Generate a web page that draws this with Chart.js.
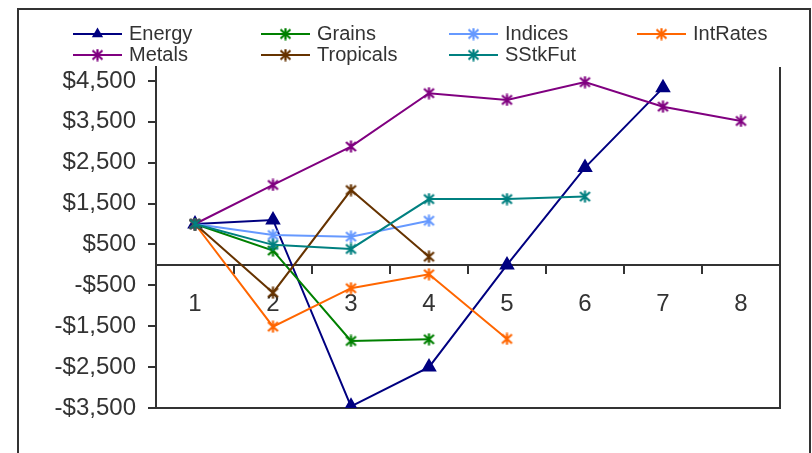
<!DOCTYPE html>
<html lang="en">
<head>
  <meta charset="UTF-8" />
  <title>Sector P&amp;L</title>
  <script src="https://cdn.jsdelivr.net/npm/chart.js"></script>
  <style>
    html, body {
      margin: 0;
      padding: 0;
      background: #fff;
    }
    #wrap {
      width: 812px;
      height: 453px;
    }
  </style>
</head>
<body>
  <div id="wrap"><canvas id="chart" width="812" height="453"></canvas></div>

  <script>
    // data
    const periods = ['1', '2', '3', '4', '5', '6', '7', '8'];
    const yTicks = [-3500, -2500, -1500, -500, 500, 1500, 2500, 3500, 4500];

    const energy    = [1000, 1100, -3460, -2500, 0, 2380, 4330];
    const grains    = [1000, 350, -1860, -1820];
    const indices   = [1000, 730, 690, 1080];
    const intRates  = [1000, -1510, -570, -230, -1810];
    const metals    = [1000, 1955, 2895, 4200, 4035, 4470, 3870, 3520];
    const tropicals = [1000, -680, 1830, 200];
    const sStkFut   = [1000, 490, 390, 1610, 1610, 1670];

    const FONT = '"Liberation Sans", Arial, sans-serif';
    const INK = '#333';

    // excel style asterisk marker
    function asterisk(color) {
      const c = document.createElement('canvas');
      c.width = 13; c.height = 13;
      const g = c.getContext('2d');
      g.strokeStyle = color;
      g.lineWidth = 2.2;
      g.beginPath();
      g.moveTo(6.5, 0.5); g.lineTo(6.5, 12.5);
      g.moveTo(1.5, 2); g.lineTo(11.5, 11);
      g.moveTo(11.5, 2); g.lineTo(1.5, 11);
      g.stroke();
      return c;
    }

    function serie(label, data, color, marker, order) {
      return {
        label, data,
        borderColor: color,
        backgroundColor: color,
        borderWidth: 2,
        tension: 0,
        fill: false,
        pointStyle: marker === 'triangle' ? 'triangle' : asterisk(color),
        pointRadius: 7,
        pointHoverRadius: 7,
        order
      };
    }

    const datasets = [
      serie('Energy', energy, '#000080', 'triangle', 7),
      serie('Grains', grains, '#008000', 'star', 6),
      serie('Indices', indices, '#6699FF', 'star', 5),
      serie('IntRates', intRates, '#FF6600', 'star', 4),
      serie('Metals', metals, '#800080', 'star', 3),
      serie('Tropicals', tropicals, '#663300', 'star', 2),
      serie('SStkFut', sStkFut, '#008080', 'star', 1)
    ];

    // outer frame + right/bottom border of plot area
    const frame = {
      id: 'frame',
      beforeDatasetsDraw(chart) {
        const { ctx, chartArea: a } = chart;
        ctx.save();
        ctx.strokeStyle = INK;
        ctx.lineWidth = 2;
        ctx.strokeRect(18, 9, 792, 470);
        ctx.beginPath();
        ctx.moveTo(a.right, a.top);
        ctx.lineTo(a.right, a.bottom);
        ctx.lineTo(a.left, a.bottom);
        ctx.stroke();
        ctx.restore();
      }
    };

    // 4 column legend like the excel one
    const gridLegend = {
      id: 'gridLegend',
      afterDraw(chart) {
        const ctx = chart.ctx;
        ctx.save();
        chart.data.datasets.forEach((ds, i) => {
          const x0 = 73 + (i % 4) * 188;
          const y = 34 + Math.floor(i / 4) * 21;
          ctx.strokeStyle = ds.borderColor;
          ctx.lineWidth = 2;
          ctx.beginPath();
          ctx.moveTo(x0, y);
          ctx.lineTo(x0 + 49, y);
          ctx.stroke();
          const mx = x0 + 24.5;
          if (ds.pointStyle === 'triangle') {
            const r = 6.5;
            ctx.fillStyle = ds.borderColor;
            ctx.beginPath();
            ctx.moveTo(mx, y - r);
            ctx.lineTo(mx + r * 0.866, y + r / 2);
            ctx.lineTo(mx - r * 0.866, y + r / 2);
            ctx.closePath();
            ctx.fill();
          } else {
            ctx.drawImage(ds.pointStyle, mx - 6.5, y - 6.5);
          }
          ctx.fillStyle = INK;
          ctx.font = '20px ' + FONT;
          ctx.textBaseline = 'middle';
          ctx.textAlign = 'left';
          ctx.fillText(ds.label, x0 + 56, y);
        });
        ctx.restore();
      }
    };

    new Chart(document.getElementById('chart').getContext('2d'), {
      type: 'line',
      data: { labels: periods, datasets },
      plugins: [frame, gridLegend],
      options: {
        responsive: false,
        animation: false,
        layout: { padding: { top: 67, right: 32, bottom: 45, left: 0 } },
        plugins: { legend: { display: false }, tooltip: { enabled: false } },
        scales: {
          x: {
            type: 'category',
            position: { y: 0 },
            offset: true,
            grid: { display: true, drawOnChartArea: false, drawTicks: true, tickLength: 8, color: INK, lineWidth: 2, offset: true },
            border: { display: true, color: INK, width: 2 },
            ticks: { color: INK, font: { family: FONT, size: 24 }, padding: 17, maxRotation: 0 }
          },
          y: {
            min: -3500,
            max: 4840,
            afterBuildTicks(scale) {
              scale.ticks = yTicks.map(v => ({ value: v }));
            },
            afterFit(scale) { scale.width = 156; },
            grid: { display: true, drawOnChartArea: false, drawTicks: true, tickLength: 8, color: INK, lineWidth: 2 },
            border: { display: true, color: INK, width: 2 },
            ticks: {
              color: INK,
              font: { family: FONT, size: 24 },
              padding: 12,
              callback: v => (v < 0 ? '-' : '') + '$' + Math.abs(v).toLocaleString('en-US')
            }
          }
        }
      }
    });
  </script>
</body>
</html>
